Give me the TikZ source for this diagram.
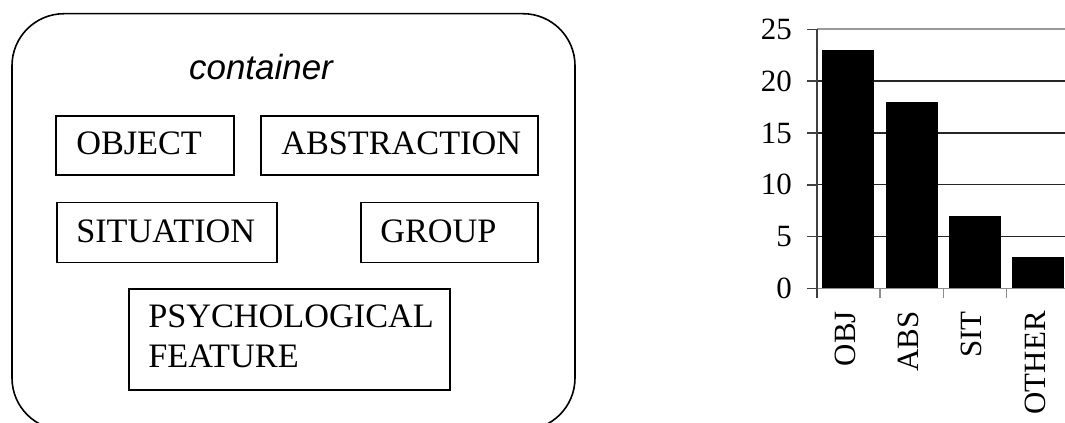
\documentclass[tikz,border=0pt]{standalone}
\usepackage{fontspec}
\setmainfont{Liberation Serif}
\newfontfamily\arialf{Liberation Sans}
\begin{document}
\begin{tikzpicture}[x=0.75pt,y=-0.75pt,
  box/.style={draw=black, line width=1.2pt, inner sep=0pt, anchor=north west},
  boxtext/.style={font=\fontsize{25.7pt}{30pt}\selectfont, inner sep=0pt, anchor=base west, align=left},
  charttext/.style={font=\fontsize{23.2pt}{26pt}\selectfont, inner sep=0pt},
  grid/.style={line width=1pt, draw=black!85},
  axisline/.style={line width=1.3pt, draw=black!45}]
\useasboundingbox (0,0) rectangle (1065,423);
\begin{scope}
\clip (0,0) rectangle (1065,423);
% container
\draw[line width=1.2pt, rounded corners=39pt] (12,13.7) rectangle (575,430);
\node[font=\arialf\itshape\fontsize{26.2pt}{30pt}\selectfont, inner sep=0pt, anchor=base] (ctitle) at (261,80) {container};
% boxes
\node[box, minimum width=178*0.75pt, minimum height=59.3*0.75pt] (obj) at (55,115) {};
\node[boxtext] (objt) at (76,155) {OBJECT};
\node[box, minimum width=277*0.75pt, minimum height=59.3*0.75pt] (abs) at (260,115) {};
\node[boxtext] (abst) at (281,155) {ABSTRACTION};
\node[box, minimum width=220*0.75pt, minimum height=60*0.75pt] (sit) at (56,201.7) {};
\node[boxtext] (sitt) at (76,243) {SITUATION};
\node[box, minimum width=177*0.75pt, minimum height=60*0.75pt] (grp) at (360,201.7) {};
\node[boxtext] (grpt) at (380,243) {GROUP};
\node[box, minimum width=321*0.75pt, minimum height=101*0.75pt] (psy) at (128,288.3) {};
\node[boxtext, anchor=west] (psyt) at (148,336.5) {PSYCHOLOGICAL\\FEATURE};
% chart gridlines
\foreach \v in {5,10,15,20} {
  \draw[grid] (817,{288.5-10.37*\v}) -- (1065,{288.5-10.37*\v});
}
\draw[line width=1.2pt, draw=black!40] (817,29.3) -- (1065,29.3);
% bars
\foreach \val [count=\i from 0] in {23,18,7,3} {
  \fill[black] ({816.7+63.3*\i+5.6},288.5) rectangle ++(52,{-10.37*\val});
}
% axes
\draw[axisline] (817,288.5) -- (1065,288.5);
\draw[line width=1.1pt, draw=black!75] (817,29.3) -- (817,298);
\foreach \v in {0,5,...,25} {
  \draw[line width=1.1pt, draw=black!75] (807,{288.5-10.37*\v}) -- (817,{288.5-10.37*\v});
}
\foreach \i in {1,2,3} {
  \draw[line width=1.1pt, draw=black!45] ({816.7+63.3*\i},288.5) -- ({816.7+63.3*\i},298);
}
% y labels
\foreach \v in {0,5,...,25} {
  \node[charttext, anchor=east] (yl\v) at (792,{288.5-10.37*\v}) {\v};
}
% category labels
\foreach \t [count=\i from 0] in {OBJ,ABS,SIT,OTHER} {
  \node[charttext, rotate=90, anchor=base east] (cl\i) at ({816.7+63.3*\i+31.6+7},311) {\t};
}
\end{scope}
\end{tikzpicture}
\end{document}
